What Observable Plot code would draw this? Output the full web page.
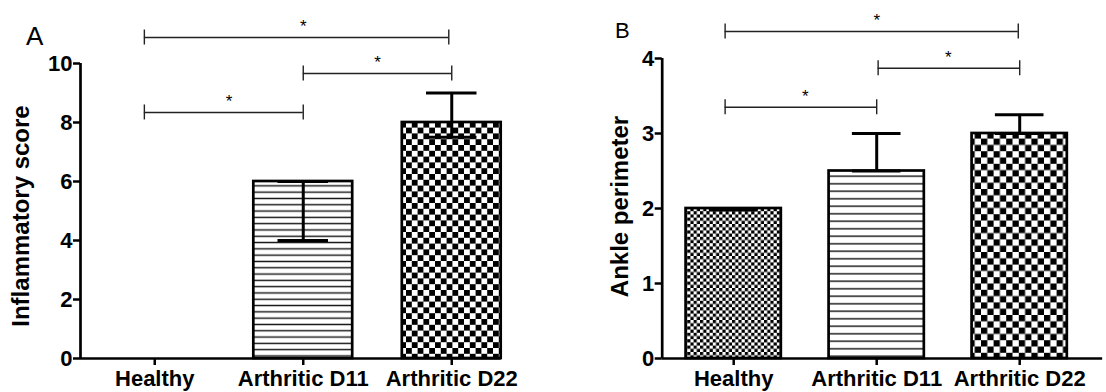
<!DOCTYPE html>
<html>
<head>
<meta charset="utf-8">
<script src="https://cdn.jsdelivr.net/npm/d3@7"></script>
<script src="https://cdn.jsdelivr.net/npm/@observablehq/plot@0.6"></script>
<style>
  html, body { margin: 0; padding: 0; background: #fff; }
  #figure { position: relative; width: 1106px; height: 392px; overflow: hidden; font-family: "Liberation Sans", Arial, sans-serif; }
  #figure > svg { position: absolute; top: 0; }
  .panel-letter { position: absolute; line-height: 1; color: #000; font-family: "Liberation Sans", Arial, sans-serif; }
</style>
</head>
<body>
<div id="figure"></div>
<script>
// Groups
const categories = ["Healthy", "Arthritic D11", "Arthritic D22"];

// Panel A: inflammatory score (mean and error-bar ends)
const inflammatoryMean = [0, 6, 8];
const inflammatoryLow = [0, 4, 7.5];
const inflammatoryHigh = [0, 6, 9];
const inflammatoryTicks = [0, 2, 4, 6, 8, 10];

// Panel B: ankle perimeter (mean and error-bar ends)
const ankleMean = [2, 2.5, 3];
const ankleLow = [1.98, 2.5, 3];
const ankleHigh = [2, 3, 3.25];
const ankleTicks = [0, 1, 2, 3, 4];

// Significance brackets: span (group index units), height (axis units), label
const inflammatoryBracketFrom = [-0.07, 1, -0.07];
const inflammatoryBracketTo = [1.98, 2, 1];
const inflammatoryBracketLevel = [10.88, 9.66, 8.34];
const ankleBracketFrom = [-0.06, 1.01, -0.06];
const ankleBracketTo = [1.99, 2, 1];
const ankleBracketLevel = [4.36, 3.87, 3.35];
const bracketLabels = ["*", "*", "*"];

const FONT = "Liberation Sans, Arial, sans-serif";
const SVG_NS = "http://www.w3.org/2000/svg";

function el(name, attrs, children = []) {
  const e = document.createElementNS(SVG_NS, name);
  for (const k in attrs) e.setAttribute(k, attrs[k]);
  children.forEach(c => e.appendChild(c));
  return e;
}

// Fill patterns: horizontal stripes and checkerboards
function stripes(id, period, thick) {
  return el("pattern", {id, patternUnits: "userSpaceOnUse", width: 10, height: period}, [
    el("rect", {width: 10, height: period, fill: "#fff"}),
    el("rect", {y: (period - thick) / 2, width: 10, height: thick, fill: "#111"})
  ]);
}
function checker(id, size) {
  return el("pattern", {id, patternUnits: "userSpaceOnUse", width: 2 * size, height: 2 * size}, [
    el("rect", {width: 2 * size, height: 2 * size, fill: "#fff"}),
    el("rect", {width: size, height: size, fill: "#000"}),
    el("rect", {x: size, y: size, width: size, height: size, fill: "#000"})
  ]);
}

function panel(cfg) {
  const H = 392;
  const plotH = H - cfg.marginTop - cfg.marginBottom;
  const pxPerUnit = plotH / cfg.yMax;
  const endHalf = 7.5 / pxPerUnit;      // half-height of bracket end ticks
  const barHalf = 0.333;                 // bar half-width in group units
  const capHalf = 0.17;                  // error cap half-width in group units

  const bars = categories.map((c, i) => ({i, c, v: cfg.means[i], lo: cfg.lows[i], hi: cfg.highs[i]}));
  const caps = bars.flatMap(d => [{i: d.i, y: d.lo}, {i: d.i, y: d.hi}]);
  const brackets = bracketLabels.map((label, k) => ({
    from: cfg.brFrom[k], to: cfg.brTo[k], y: cfg.brLevel[k], label,
    mid: (Math.round(cfg.brFrom[k]) + Math.round(cfg.brTo[k])) / 2
  }));
  const bracketEnds = brackets.flatMap(b => [{x: b.from, y: b.y}, {x: b.to, y: b.y}]);

  const svg = Plot.plot({
    width: cfg.width,
    height: H,
    marginLeft: cfg.marginLeft,
    marginRight: cfg.width - cfg.marginLeft - 3 * cfg.band,
    marginTop: cfg.marginTop,
    marginBottom: cfg.marginBottom,
    style: {fontFamily: FONT, fontSize: "22px", fontWeight: "bold", background: "transparent", overflow: "visible", color: "#000"},
    x: {domain: [-0.5, 2.5]},
    y: {domain: [0, cfg.yMax]},
    color: {type: "identity"},
    marks: [
      Plot.rect(bars, {
        x1: d => d.i - barHalf, x2: d => d.i + barHalf, y1: 0, y2: "v",
        fill: d => `url(#${cfg.patterns[d.i]})`, stroke: "#000", strokeWidth: 2.7
      }),
      // error bars
      Plot.ruleX(bars.filter(d => d.hi > d.lo), {x: "i", y1: "lo", y2: "hi", stroke: "#000", strokeWidth: 3}),
      Plot.ruleY(caps.filter(d => d.y > 0), {y: "y", x1: d => d.i - capHalf, x2: d => d.i + capHalf, stroke: "#000", strokeWidth: 3}),
      // axes
      Plot.ruleX([-0.5], {y1: 0, y2: cfg.yMax, stroke: "#000", strokeWidth: 2.7}),
      Plot.ruleY([0], {x1: -0.5, x2: cfg.axisEnd, stroke: "#000", strokeWidth: 2.7}),
      Plot.axisY({ticks: cfg.ticks, tickFormat: d => String(d), tickSize: 7, tickPadding: 1, fontSize: 22, strokeWidth: 2.5, label: null}),
      Plot.axisX({ticks: [0, 1, 2], tickFormat: i => categories[i], tickSize: 7, tickPadding: 5, fontSize: 22, strokeWidth: 2.5, label: null}),
      Plot.text([cfg.yTitle], {frameAnchor: "left", textAnchor: "middle", dx: cfg.titleDx, dy: cfg.titleDy, rotate: -90, text: d => d, fontSize: 24, fontWeight: "bold"}),
      // significance brackets
      Plot.ruleY(brackets, {y: "y", x1: "from", x2: "to", stroke: "#222", strokeWidth: 1.4}),
      Plot.ruleX(bracketEnds, {x: "x", y1: d => d.y - endHalf, y2: d => d.y + endHalf, stroke: "#222", strokeWidth: 1.4}),
      Plot.text(brackets, {x: "mid", y: "y", text: "label", dy: -11, fontSize: 17, fontWeight: "normal"})
    ]
  });

  const defs = el("defs", {}, cfg.patternDefs);
  svg.insertBefore(defs, svg.firstChild);
  svg.style.left = cfg.left + "px";
  return svg;
}

const fig = document.getElementById("figure");

fig.appendChild(panel({
  left: 0, width: 540, marginLeft: 80, band: 148.5, marginTop: 63, marginBottom: 34,
  yMax: 10, ticks: inflammatoryTicks, axisEnd: 2.333,
  means: inflammatoryMean, lows: inflammatoryLow, highs: inflammatoryHigh,
  brFrom: inflammatoryBracketFrom, brTo: inflammatoryBracketTo, brLevel: inflammatoryBracketLevel,
  yTitle: "Inflammatory score", titleDx: -59, titleDy: 5,
  patterns: ["a-fine", "a-stripes", "a-checker"],
  patternDefs: [checker("a-fine", 3.2), stripes("a-stripes", 6.3, 1.4), checker("a-checker", 5.8)]
}));

fig.appendChild(panel({
  left: 540, width: 566, marginLeft: 121.7, band: 143, marginTop: 58, marginBottom: 34,
  yMax: 4, ticks: ankleTicks, axisEnd: 2.58,
  means: ankleMean, lows: ankleLow, highs: ankleHigh,
  brFrom: ankleBracketFrom, brTo: ankleBracketTo, brLevel: ankleBracketLevel,
  yTitle: "Ankle perimeter", titleDx: -42, titleDy: -2,
  patterns: ["b-fine", "b-stripes", "b-checker"],
  patternDefs: [checker("b-fine", 3.2), stripes("b-stripes", 7.5, 1.4), checker("b-checker", 6.3)]
}));

// Panel letters
const letters = [
  {t: "A", left: 26, top: 23, size: 26},
  {t: "B", left: 615, top: 20, size: 22}
];
letters.forEach(l => {
  const d = document.createElement("div");
  d.className = "panel-letter";
  d.textContent = l.t;
  d.style.left = l.left + "px";
  d.style.top = l.top + "px";
  d.style.fontSize = l.size + "px";
  fig.appendChild(d);
});
</script>
</body>
</html>
